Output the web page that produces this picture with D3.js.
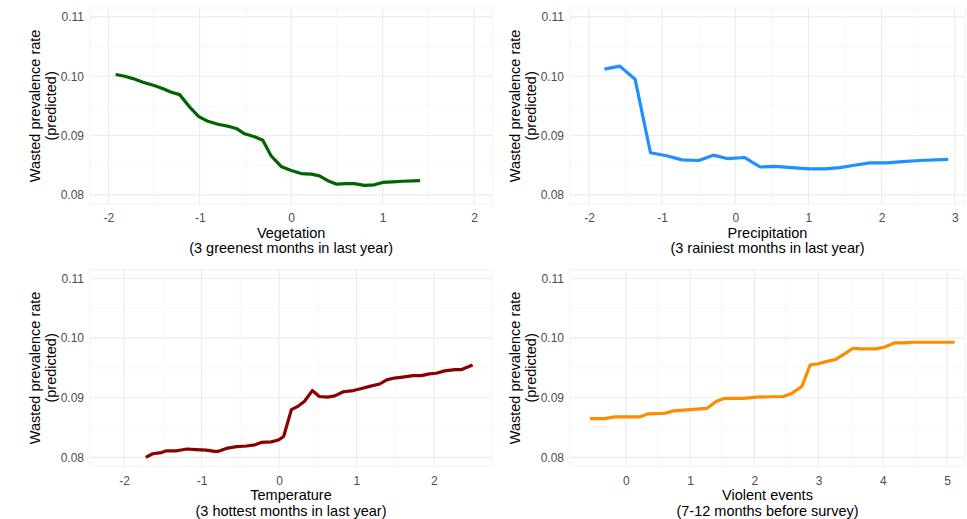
<!DOCTYPE html>
<html>
<head>
<meta charset="utf-8">
<script src="https://cdn.jsdelivr.net/npm/d3@7"></script>
<style>
  body { margin: 0; background: white; }
  svg { font-family: "Liberation Sans", Arial, sans-serif; }
</style>
</head>
<body>
<div id="chart"></div>
<script>
// values
const yTicks = [0.08, 0.09, 0.10, 0.11]
const yLabel = ["Wasted prevalence rate", "(predicted)"]

const vegX = [-1.92, -1.82, -1.73, -1.62, -1.49, -1.40, -1.31, -1.22, -1.11, -1.01, -0.91, -0.80, -0.67, -0.60, -0.51, -0.40, -0.31, -0.22, -0.11, 0.00, 0.11, 0.22, 0.31, 0.40, 0.50, 0.60, 0.69, 0.80, 0.91, 1.00, 1.11, 1.22, 1.41]
const vegY = [0.1003, 0.1000, 0.0996, 0.0990, 0.0984, 0.0979, 0.0973, 0.0969, 0.0948, 0.0932, 0.0924, 0.0919, 0.0915, 0.0912, 0.0903, 0.0898, 0.0892, 0.0866, 0.0848, 0.0841, 0.0836, 0.0835, 0.0832, 0.0824, 0.0818, 0.0819, 0.0819, 0.0816, 0.0817, 0.0821, 0.0822, 0.0823, 0.0824]

const preX = [-1.79, -1.58, -1.37, -1.16, -0.94, -0.73, -0.50, -0.30, -0.10, 0.13, 0.34, 0.54, 0.77, 1.00, 1.22, 1.43, 1.63, 1.84, 2.07, 2.29, 2.52, 2.91]
const preY = [0.1012, 0.1017, 0.0995, 0.0871, 0.0866, 0.0859, 0.0858, 0.0867, 0.0861, 0.0863, 0.0847, 0.0848, 0.0846, 0.0844, 0.0844, 0.0846, 0.0850, 0.0854, 0.0854, 0.0856, 0.0858, 0.0860]

const temX = [-1.72, -1.63, -1.52, -1.45, -1.32, -1.19, -1.07, -0.94, -0.83, -0.79, -0.68, -0.55, -0.42, -0.31, -0.23, -0.10, -0.01, 0.06, 0.16, 0.25, 0.33, 0.43, 0.52, 0.63, 0.72, 0.83, 0.96, 1.08, 1.17, 1.30, 1.39, 1.49, 1.62, 1.73, 1.84, 1.94, 2.03, 2.14, 2.27, 2.35, 2.50]
const temY = [0.0800, 0.0806, 0.0808, 0.0811, 0.0811, 0.0814, 0.0813, 0.0812, 0.0810, 0.0810, 0.0815, 0.0818, 0.0819, 0.0821, 0.0825, 0.0826, 0.0829, 0.0835, 0.0880, 0.0886, 0.0894, 0.0912, 0.0902, 0.0901, 0.0903, 0.0910, 0.0912, 0.0916, 0.0919, 0.0923, 0.0930, 0.0933, 0.0935, 0.0937, 0.0937, 0.0940, 0.0941, 0.0945, 0.0947, 0.0947, 0.0955]

const vioX = [-0.56, -0.33, -0.17, 0.01, 0.22, 0.35, 0.61, 0.74, 1.00, 1.26, 1.41, 1.54, 1.83, 2.03, 2.45, 2.58, 2.74, 2.87, 3.00, 3.13, 3.26, 3.41, 3.54, 3.64, 3.90, 4.03, 4.19, 4.32, 4.47, 5.12]
const vioY = [0.0865, 0.0865, 0.0868, 0.0868, 0.0868, 0.0873, 0.0874, 0.0878, 0.0880, 0.0882, 0.0894, 0.0899, 0.0899, 0.0901, 0.0902, 0.0907, 0.0919, 0.0955, 0.0957, 0.0961, 0.0964, 0.0974, 0.0983, 0.0982, 0.0982, 0.0985, 0.0992, 0.0992, 0.0993, 0.0993]

const panels = [
  {xs: vegX, ys: vegY, color: "#006400", ticks: [-2, -1, 0, 1, 2], domain: [-2.2, 2.2],
   title: ["Vegetation", "(3 greenest months in last year)"], x0: 90, x1: 492.3, y0: 8, y1: 203.8},
  {xs: preX, ys: preY, color: "#1e90ff", ticks: [-2, -1, 0, 1, 2, 3], domain: [-2.26, 3.14],
   title: ["Precipitation", "(3 rainiest months in last year)"], x0: 570, x1: 965, y0: 8, y1: 203.8},
  {xs: temX, ys: temY, color: "#8b0000", ticks: [-2, -1, 0, 1, 2], domain: [-2.44, 2.75],
   title: ["Temperature", "(3 hottest months in last year)"], x0: 90, x1: 492, y0: 269.5, y1: 466.3},
  {xs: vioX, ys: vioY, color: "#ff8c00", ticks: [0, 1, 2, 3, 4, 5], domain: [-0.87, 5.28],
   title: ["Violent events", "(7-12 months before survey)"], x0: 570, x1: 965, y0: 269.5, y1: 466.3}
]

const svg = d3.select("#chart").append("svg")
  .attr("width", 967)
  .attr("height", 519)

panels.forEach(p => {
  let x = d3.scaleLinear().domain(p.domain).range([p.x0, p.x1])
  let y = d3.scaleLinear().domain([0.0785, 0.1115]).range([p.y1, p.y0])
  let g = svg.append("g")

  // minor grid at half steps
  let xMinor = p.ticks.slice(0, -1).map((t, i) => (t + p.ticks[i + 1]) / 2)
  let yMinor = yTicks.slice(0, -1).map((t, i) => (t + yTicks[i + 1]) / 2)
  g.selectAll(".xminor").data(xMinor).join("line")
    .attr("x1", d => x(d)).attr("x2", d => x(d))
    .attr("y1", p.y0).attr("y2", p.y1)
    .attr("stroke", "#f2f2f2").attr("stroke-width", 0.6)
  g.selectAll(".yminor").data(yMinor).join("line")
    .attr("x1", p.x0).attr("x2", p.x1)
    .attr("y1", d => y(d)).attr("y2", d => y(d))
    .attr("stroke", "#f2f2f2").attr("stroke-width", 0.6)

  g.selectAll(".xmajor").data(p.ticks).join("line")
    .attr("x1", d => x(d)).attr("x2", d => x(d))
    .attr("y1", p.y0).attr("y2", p.y1)
    .attr("stroke", "#ebebeb").attr("stroke-width", 1.1)
  g.selectAll(".ymajor").data(yTicks).join("line")
    .attr("x1", p.x0).attr("x2", p.x1)
    .attr("y1", d => y(d)).attr("y2", d => y(d))
    .attr("stroke", "#ebebeb").attr("stroke-width", 1.1)

  g.append("rect")
    .attr("x", p.x0).attr("y", p.y0)
    .attr("width", p.x1 - p.x0).attr("height", p.y1 - p.y0)
    .attr("fill", "none").attr("stroke", "#f2f2f2").attr("stroke-width", 1)

  // axes without lines, only labels (plain hyphen for negatives, like R)
  let xAxis = g.append("g")
    .attr("transform", `translate(0,${p.y1})`)
    .call(d3.axisBottom(x).tickValues(p.ticks).tickSize(0).tickPadding(6).tickFormat(d => String(d)))
  let yAxis = g.append("g")
    .attr("transform", `translate(${p.x0},0)`)
    .call(d3.axisLeft(y).tickValues(yTicks).tickSize(0).tickPadding(6).tickFormat(d => d.toFixed(2)))
  ;[xAxis, yAxis].forEach(a => {
    a.select(".domain").remove()
    a.selectAll("text")
      .attr("fill", "#4d4d4d")
      .style("font-size", "12px")
      .style("font-family", "Liberation Sans, Arial, sans-serif")
  })
  xAxis.selectAll("text").attr("dy", "1.05em")

  let line = d3.line()
    .x(d => x(d[0]))
    .y(d => y(d[1]))
  g.append("path")
    .datum(d3.zip(p.xs, p.ys))
    .attr("d", line)
    .attr("fill", "none")
    .attr("stroke", p.color)
    .attr("stroke-width", 3.2)
    .attr("stroke-linejoin", "round")
    .attr("stroke-linecap", "butt")

  let cx = (p.x0 + p.x1) / 2
  p.title.forEach((t, i) => {
    g.append("text")
      .text(t)
      .attr("x", cx).attr("y", p.y1 + 34 + i * 15.5)
      .attr("text-anchor", "middle")
      .attr("fill", "black")
      .style("font-size", "14.5px")
  })

  let cy = (p.y0 + p.y1) / 2
  yLabel.forEach((t, i) => {
    g.append("text")
      .text(t)
      .attr("transform", `translate(${p.x0 - 50 + i * 15.5},${cy}) rotate(-90)`)
      .attr("text-anchor", "middle")
      .attr("fill", "black")
      .style("font-size", "14.5px")
  })
})
</script>
</body>
</html>
